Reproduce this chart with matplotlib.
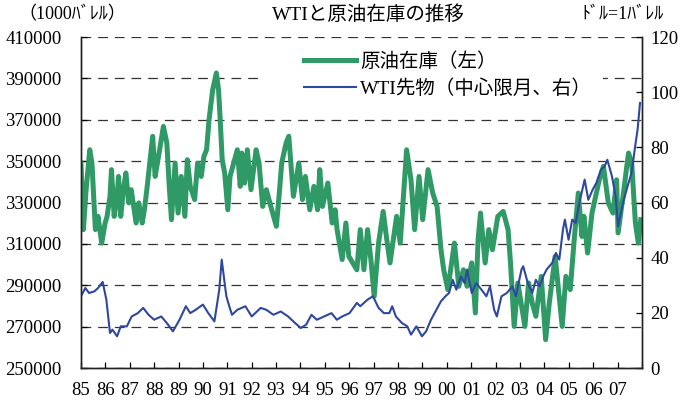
"""WTI futures vs US crude oil inventory, 1985-2007."""

import matplotlib
matplotlib.use("Agg")
import matplotlib.pyplot as plt
from matplotlib.patches import Rectangle

plt.rcParams["font.family"] = ["Liberation Serif", "Noto Sans CJK JP"]
plt.rcParams["lines.scale_dashes"] = False

# crude oil inventory (1000 barrels)
inv_year = [
    1985.00, 1985.10, 1985.21, 1985.36, 1985.45, 1985.59, 1985.70, 1985.85, 1985.99,
    1986.07, 1986.19, 1986.25, 1986.36, 1986.48, 1986.54, 1986.63, 1986.74, 1986.84, 1986.96,
    1987.06, 1987.18, 1987.26, 1987.37, 1987.51, 1987.60, 1987.70, 1987.82, 1987.94,
    1988.04, 1988.18, 1988.38, 1988.52, 1988.62, 1988.71, 1988.86, 1988.98,
    1989.11, 1989.26, 1989.36, 1989.48, 1989.66, 1989.78, 1989.93,
    1990.04, 1990.15, 1990.25, 1990.40, 1990.55, 1990.64, 1990.70, 1990.79, 1990.89,
    1991.02, 1991.11, 1991.41, 1991.53, 1991.59, 1991.71, 1991.82, 1991.97,
    1992.18, 1992.30, 1992.45, 1992.60, 1992.82,
    1993.01, 1993.12, 1993.23, 1993.41, 1993.52, 1993.71, 1993.93,
    1994.08, 1994.20, 1994.38, 1994.55, 1994.70, 1994.79, 1994.90,
    1995.12, 1995.30, 1995.42, 1995.50, 1995.71, 1995.86, 1995.98,
    1996.31, 1996.45, 1996.60, 1996.75, 1996.90,
    1997.02, 1997.20, 1997.39, 1997.52, 1997.67, 1997.94,
    1998.09, 1998.35, 1998.53, 1998.68, 1998.86,
    1999.01, 1999.23, 1999.42, 1999.60, 1999.76, 1999.87,
    2000.04, 2000.31, 2000.49, 2000.68, 2000.83,
    2001.02, 2001.17, 2001.28, 2001.38, 2001.57, 2001.72, 2001.87,
    2002.09, 2002.31, 2002.51, 2002.61, 2002.76, 2002.91,
    2003.20, 2003.35, 2003.50, 2003.65, 2003.87,
    2004.05, 2004.20, 2004.44, 2004.73, 2004.88,
    2005.06, 2005.21, 2005.39, 2005.54, 2005.62, 2005.77, 2005.95,
    2006.25, 2006.42, 2006.62, 2006.81, 2006.96,
    2007.02, 2007.26, 2007.36, 2007.45, 2007.58, 2007.73, 2007.85, 2007.95,
]
inv_value = [
    349100, 316900, 336200, 355500, 349100, 316900, 323300, 310400, 320100,
    323300, 333000, 345900, 323300, 333000, 342600, 323300, 336200, 344300, 329800,
    336200, 326500, 320100, 329800, 320100, 326500, 336200, 349100, 362000,
    342600, 352300, 366800, 358800, 337800, 321700, 349100, 324900,
    342600, 323300, 350700, 337800, 331400, 349100, 342600,
    352300, 355500, 370000, 384500, 392600, 384500, 371700, 350700, 344300,
    326500, 342600, 355500, 337800, 353900, 339400, 355500, 336200,
    355500, 349100, 328100, 336200, 326500,
    318500, 333000, 349100, 358800, 362000, 333000, 349100,
    331400, 342600, 326500, 337800, 326500, 345900, 328100,
    339400, 320100, 326500, 316900, 302400, 320100, 304000,
    297500, 316900, 297500, 316900, 300800,
    284600, 310400, 325700, 313600, 300800, 323300,
    310400, 355500, 341000, 316900, 342600,
    321700, 345900, 334600, 328100, 307200, 297500,
    287900, 310400, 289500, 297500, 289500,
    300800, 276600, 312000, 324900, 300800, 316900, 307200,
    323300, 325700, 316900, 300800, 270100, 291100,
    270100, 291100, 281400, 275000, 294300,
    263700, 281400, 304000, 270100, 294300,
    287900, 310400, 334600, 313600, 323300, 305600, 324900,
    341000, 347500, 329800, 324900, 341000,
    315300, 336200, 345900, 353900, 349100, 320100, 310400, 321700,
]

# WTI front-month futures (USD per barrel)
wti_year = [
    1985.00, 1985.18, 1985.33, 1985.55, 1985.70, 1985.89,
    1986.04, 1986.19, 1986.29, 1986.48, 1986.63, 1986.88,
    1987.08, 1987.33, 1987.55, 1987.77,
    1988.00, 1988.29, 1988.52, 1988.77,
    1989.04, 1989.30, 1989.48, 1989.70,
    1990.00, 1990.22, 1990.47, 1990.67, 1990.77, 1990.89, 1990.96,
    1991.08, 1991.19, 1991.41, 1991.74,
    1992.00, 1992.37, 1992.60, 1992.89,
    1993.19, 1993.49, 1993.78,
    1994.01, 1994.23, 1994.45, 1994.67, 1994.97,
    1995.27, 1995.49, 1995.71,
    1996.01, 1996.31, 1996.45, 1996.75, 1996.97,
    1997.20, 1997.42, 1997.64, 1997.76, 1997.91,
    1998.16, 1998.38, 1998.53, 1998.75, 1998.98,
    1999.15, 1999.35, 1999.57, 1999.76, 1999.94,
    2000.09, 2000.24, 2000.39, 2000.58, 2000.73, 2000.83,
    2001.02, 2001.20, 2001.42, 2001.62, 2001.77, 2001.94,
    2002.05, 2002.24, 2002.46, 2002.69, 2002.83,
    2003.06, 2003.13, 2003.32, 2003.50, 2003.65, 2003.80, 2003.95,
    2004.09, 2004.32, 2004.47, 2004.61, 2004.76, 2004.84, 2004.99,
    2005.14, 2005.28, 2005.43, 2005.65, 2005.80, 2005.98,
    2006.13, 2006.32, 2006.47, 2006.58, 2006.77, 2006.92,
    2007.02, 2007.22, 2007.41, 2007.57, 2007.74, 2007.82, 2007.92,
]
wti_price = [
    26.0, 29.0, 27.2, 27.8, 29.0, 31.2,
    24.8, 12.7, 13.9, 11.5, 15.1, 15.1,
    18.7, 19.9, 21.8, 19.3,
    17.5, 18.7, 16.3, 13.3,
    17.5, 22.4, 19.9, 21.1,
    23.0, 19.9, 16.9, 28.4, 39.3, 30.8, 26.0,
    22.4, 19.3, 21.1, 22.4,
    18.7, 21.8, 21.1, 19.3,
    20.5, 18.7, 16.3,
    14.5, 15.7, 19.3, 17.5, 18.7,
    19.9, 17.5, 18.7,
    19.9, 23.6, 22.4, 24.8, 26.0,
    21.8, 19.9, 19.9, 22.4, 18.7,
    16.3, 15.1, 12.1, 15.1, 11.5,
    13.3, 17.5, 21.1, 24.2, 26.0,
    27.2, 32.0, 28.4, 33.2, 30.8, 35.7,
    27.2, 30.8, 28.4, 26.0, 29.6, 21.1,
    18.7, 26.0, 27.2, 29.6, 26.0,
    35.7, 36.9, 30.8, 27.2, 32.0, 29.6, 33.2,
    35.7, 38.1, 41.7, 39.3, 50.2, 53.8, 46.5,
    53.8, 52.6, 59.8, 68.3, 61.0, 64.7,
    67.1, 71.9, 73.1, 75.5, 69.5, 62.2,
    51.4, 59.8, 65.9, 70.7, 81.6, 86.4, 96.1,
]

year_ticks = list(range(1985, 2009))
year_labels = [f"{y % 100:02d}" for y in range(1985, 2008)] + [""]
inv_ticks = list(range(250000, 410001, 20000))
wti_ticks = list(range(0, 121, 20))

GREEN = "#2f9a65"
BLUE = "#2e48a0"

fig = plt.figure(figsize=(6.88, 4.09), dpi=100)
ax = fig.add_axes([0.1177, 0.1002, 0.8154, 0.8093])
ax2 = ax.twinx()

ax.plot(inv_year, inv_value, color=GREEN, lw=3.6, solid_joinstyle="round", zorder=2,
        label="原油在庫（左）")
ax2.plot(wti_year, wti_price, color=BLUE, lw=1.5, zorder=2, label="WTI先物（中心限月、右）")

ax.set_xlim(1985, 2008)
ax.set_ylim(250000, 410000)
ax2.set_ylim(0, 120)

ax.set_yticks(inv_ticks)
ax.set_yticklabels([str(v) for v in inv_ticks])
ax2.set_yticks(wti_ticks)
ax.set_xticks(year_ticks)
ax.set_xticklabels(year_labels)

ax.grid(axis="y", color="#333333", lw=0.9, linestyle=(0, (7, 5)))
ax.set_axisbelow(True)

# white patch behind the legend hides the grid there
ax.add_patch(Rectangle((0.316, 0.78), 0.614, 0.20, transform=ax.transAxes,
                       facecolor="white", edgecolor="none", zorder=1))

for a in (ax, ax2):
    a.spines["top"].set_visible(False)
    for s in ("left", "right", "bottom"):
        a.spines[s].set_linewidth(1.0)
        a.spines[s].set_color("#222222")
ax.tick_params(axis="x", direction="in", length=4, width=0.9, pad=10, labelsize=13.5)
ax.tick_params(axis="y", direction="in", length=4, width=0.9, pad=14, labelsize=13.5)
ax2.tick_params(axis="y", direction="in", length=4, width=0.9, pad=6, labelsize=13.5)

h1, l1 = ax.get_legend_handles_labels()
h2, l2 = ax2.get_legend_handles_labels()
ax2.legend(h1 + h2, l1 + l2, loc="center left", bbox_to_anchor=(0.38, 0.885),
           frameon=False, borderpad=0, handlelength=2.7, handletextpad=0.2,
           labelspacing=0.45, prop={"family": ["Liberation Serif", "Noto Sans CJK JP"], "size": 14})

fig.text(0.535, 0.965, "WTIと原油在庫の推移", ha="center", va="center", fontsize=14)
fig.text(0.105, 0.965, "（1000ﾊﾞﾚﾙ）", ha="center", va="center", fontsize=13)
fig.text(0.905, 0.965, "ﾄﾞﾙ=1ﾊﾞﾚﾙ", ha="center", va="center", fontsize=13)

fig.savefig("out.png", dpi=100)
